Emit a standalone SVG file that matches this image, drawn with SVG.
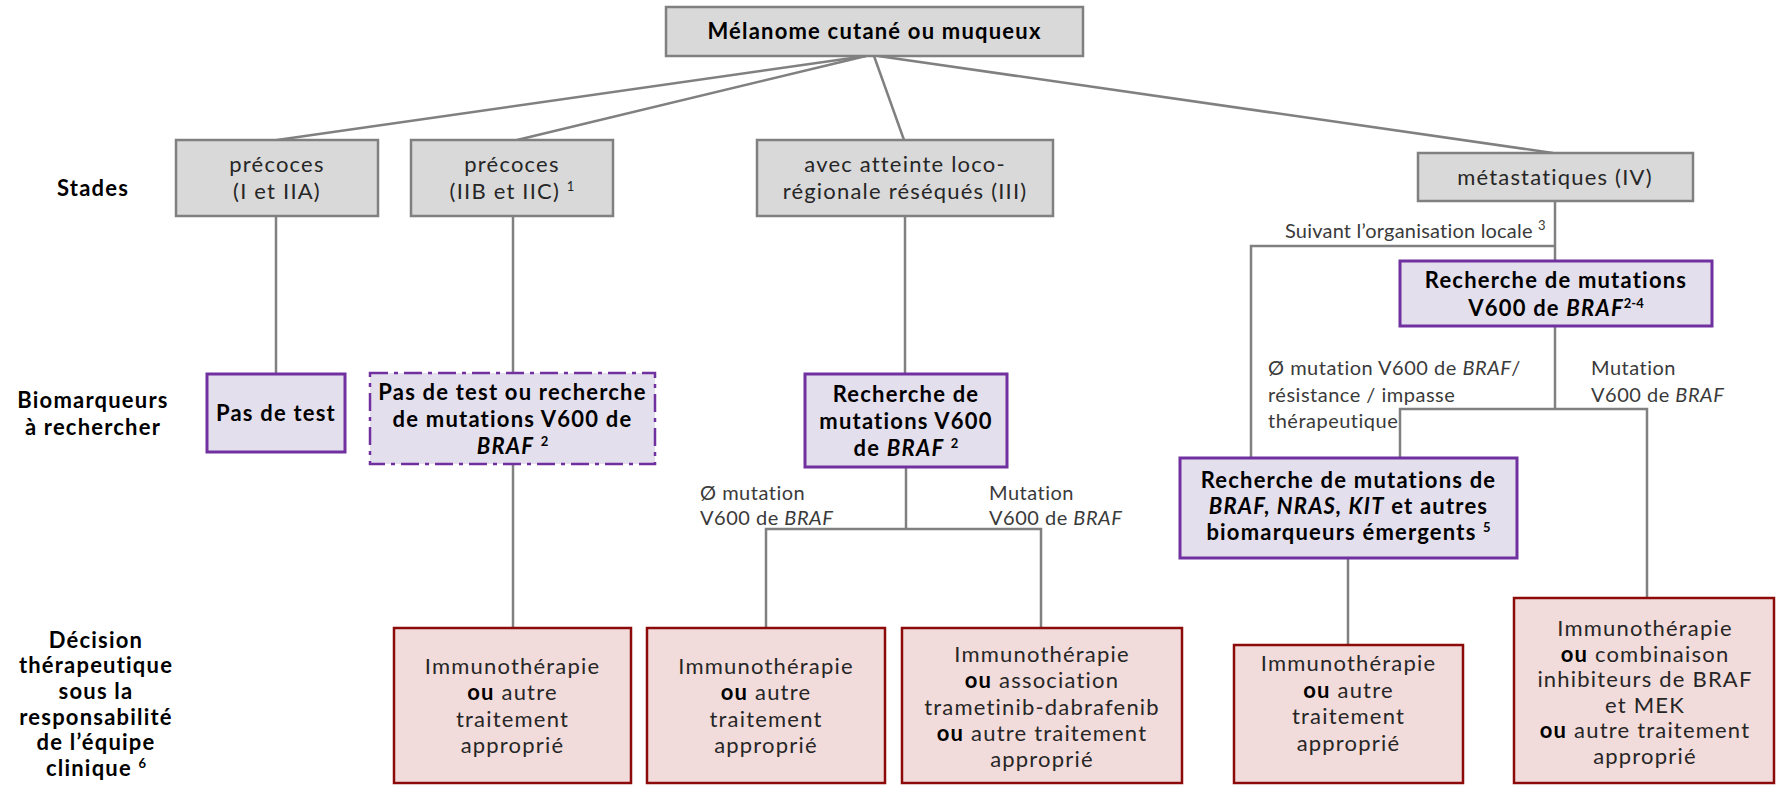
<svg xmlns="http://www.w3.org/2000/svg" width="1776" height="785" viewBox="0 0 1776 785">
<style>
text{font-family:Lato,"Open Sans","Liberation Sans",sans-serif;font-size:22px;letter-spacing:1.2px;fill:#262626;text-anchor:middle}
.b{font-weight:bold;fill:#000}
.bi{font-weight:bold;font-style:italic}
.i{font-style:italic}
.lbl{font-size:20px;letter-spacing:0.5px;fill:#3a3a3a;text-anchor:start}
.sup{font-size:13px;letter-spacing:0}
.stage{fill:#d9d9d9;stroke:#808080;stroke-width:2.5}
.bio{fill:#e4dfec;stroke:#7030a0;stroke-width:3}
.dash{fill:#e4dfec;stroke:#7030a0;stroke-width:2.5;stroke-dasharray:18 6 4 6}
.dec{fill:#f2dcdb;stroke:#8c0a0a;stroke-width:2.5}
.conn path{fill:none;stroke:#808080;stroke-width:2.5}
</style>
<rect width="1776" height="785" fill="#fff"/>

<g id="row-labels">
<text class="b" x="93" y="196">Stades</text>
<text class="b" x="93" y="408">Biomarqueurs</text>
<text class="b" x="93" y="435">à rechercher</text>
<text class="b" x="96" y="648">Décision</text>
<text class="b" x="96" y="673">thérapeutique</text>
<text class="b" x="96" y="699">sous la</text>
<text class="b" x="96" y="725">responsabilité</text>
<text class="b" x="96" y="750">de l’équipe</text>
<text class="b" x="96" y="776">clinique <tspan class="sup" baseline-shift="super">6</tspan></text>
</g>

<g id="connectors" class="conn">
<path d="M866,56 L277,140"/>
<path d="M866,56 L517,140"/>
<path d="M874,56 L904,140"/>
<path d="M878,56 L1553,153"/>
<path d="M276,216 V374"/>
<path d="M513,216 V373"/>
<path d="M513,464 V628"/>
<path d="M905,216 V374"/>
<path d="M906,467 V529"/>
<path d="M766,628 V529 H1041 V628"/>
<path d="M1555,201 V261"/>
<path d="M1555,246 H1251 V458"/>
<path d="M1555,326 V409"/>
<path d="M1400,458 V409 H1647 V598"/>
<path d="M1348,558 V645"/>
</g>

<g id="edge-labels">
<text class="lbl" x="1285" y="238" style="letter-spacing:0.2px">Suivant l’organisation locale <tspan class="sup" baseline-shift="super">3</tspan></text>
<text class="lbl" x="700" y="500">Ø mutation</text>
<text class="lbl" x="700" y="525">V600 de <tspan class="i">BRAF</tspan></text>
<text class="lbl" x="989" y="500">Mutation</text>
<text class="lbl" x="989" y="525">V600 de <tspan class="i">BRAF</tspan></text>
<text class="lbl" x="1268" y="375">Ø mutation V600 de <tspan class="i">BRAF</tspan>/</text>
<text class="lbl" x="1268" y="402">résistance / impasse</text>
<text class="lbl" x="1268" y="428">thérapeutique</text>
<text class="lbl" x="1591" y="375">Mutation</text>
<text class="lbl" x="1591" y="402">V600 de <tspan class="i">BRAF</tspan></text>
</g>

<g id="n-root">
<rect class="stage" x="666" y="7" width="417" height="49"/>
<text class="b" x="874.5" y="39">Mélanome cutané ou muqueux</text>
</g>

<g id="n-stage1">
<rect class="stage" x="176" y="140" width="202" height="76"/>
<text x="277" y="172">précoces</text>
<text x="277" y="199">(I et IIA)</text>
</g>
<g id="n-stage2">
<rect class="stage" x="411" y="140" width="202" height="76"/>
<text x="512" y="172">précoces</text>
<text x="512" y="199">(IIB et IIC) <tspan class="sup" baseline-shift="super">1</tspan></text>
</g>
<g id="n-stage3">
<rect class="stage" x="757" y="140" width="296" height="76"/>
<text x="905" y="172">avec atteinte loco-</text>
<text x="905" y="199">régionale réséqués (III)</text>
</g>
<g id="n-stage4">
<rect class="stage" x="1418" y="153" width="275" height="48"/>
<text x="1555" y="185">métastatiques (IV)</text>
</g>

<g id="n-bio1">
<rect class="bio" x="207" y="374" width="138" height="78"/>
<text class="b" x="276" y="421">Pas de test</text>
</g>
<g id="n-bio2">
<rect class="dash" x="370" y="373" width="285" height="91"/>
<text class="b" x="512.5" y="400">Pas de test ou recherche</text>
<text class="b" x="512.5" y="427">de mutations  V600 de</text>
<text class="b" x="512.5" y="454"><tspan class="bi">BRAF</tspan> <tspan class="sup" baseline-shift="super">2</tspan></text>
</g>
<g id="n-bio3">
<rect class="bio" x="805" y="374" width="202" height="93"/>
<text class="b" x="906" y="402">Recherche de</text>
<text class="b" x="906" y="429">mutations  V600</text>
<text class="b" x="906" y="456">de <tspan class="bi">BRAF</tspan> <tspan class="sup" baseline-shift="super">2</tspan></text>
</g>
<g id="n-bio4">
<rect class="bio" x="1400" y="261" width="312" height="65"/>
<text class="b" x="1556" y="288">Recherche de mutations</text>
<text class="b" x="1556" y="316">V600 de <tspan class="bi">BRAF</tspan><tspan class="sup" baseline-shift="super">2-4</tspan></text>
</g>
<g id="n-bio5">
<rect class="bio" x="1180" y="458" width="337" height="100"/>
<text class="b" x="1348.5" y="488">Recherche de mutations de</text>
<text class="b" x="1348.5" y="514"><tspan class="bi">BRAF, NRAS, KIT</tspan> et autres</text>
<text class="b" x="1348.5" y="540">biomarqueurs émergents <tspan class="sup" baseline-shift="super">5</tspan></text>
</g>

<g id="n-decA">
<rect class="dec" x="394" y="628" width="237" height="155"/>
<text x="512.5" y="674">Immunothérapie</text>
<text x="512.5" y="700"><tspan class="b">ou</tspan> autre</text>
<text x="512.5" y="727">traitement</text>
<text x="512.5" y="753">approprié</text>
</g>
<g id="n-decB">
<rect class="dec" x="647" y="628" width="238" height="155"/>
<text x="766" y="674">Immunothérapie</text>
<text x="766" y="700"><tspan class="b">ou</tspan> autre</text>
<text x="766" y="727">traitement</text>
<text x="766" y="753">approprié</text>
</g>
<g id="n-decC">
<rect class="dec" x="902" y="628" width="280" height="155"/>
<text x="1042" y="662">Immunothérapie</text>
<text x="1042" y="688"><tspan class="b">ou</tspan> association</text>
<text x="1042" y="715">trametinib-dabrafenib</text>
<text x="1042" y="741"><tspan class="b">ou</tspan> autre traitement</text>
<text x="1042" y="767">approprié</text>
</g>
<g id="n-decD">
<rect class="dec" x="1234" y="645" width="229" height="138"/>
<text x="1348.5" y="671">Immunothérapie</text>
<text x="1348.5" y="698"><tspan class="b">ou</tspan> autre</text>
<text x="1348.5" y="724">traitement</text>
<text x="1348.5" y="751">approprié</text>
</g>
<g id="n-decE">
<rect class="dec" x="1514" y="598" width="260" height="185"/>
<text x="1645" y="636">Immunothérapie</text>
<text x="1645" y="662"><tspan class="b">ou</tspan> combinaison</text>
<text x="1645" y="687">inhibiteurs de BRAF</text>
<text x="1645" y="713">et MEK</text>
<text x="1645" y="738"><tspan class="b">ou</tspan> autre traitement</text>
<text x="1645" y="764">approprié</text>
</g>
</svg>
